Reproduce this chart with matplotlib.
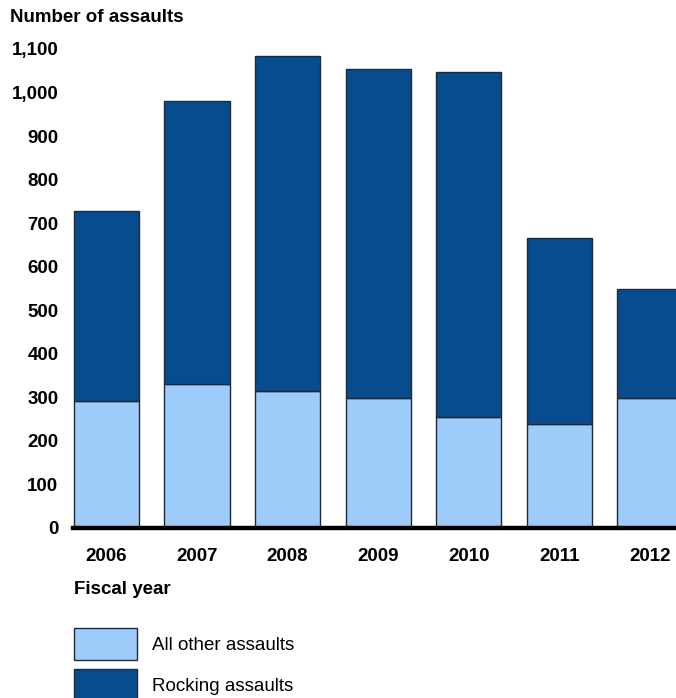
import matplotlib
matplotlib.use("Agg")
import matplotlib.pyplot as plt
from matplotlib.patches import Patch
import numpy as np

plt.rcParams['font.family'] = ['Liberation Sans', 'DejaVu Sans']

years = ["2006", "2007", "2008", "2009", "2010", "2011", "2012"]
other_assaults = [292, 330, 315, 299, 254, 238, 298]
rocking_assaults = [436, 650, 770, 756, 794, 427, 250]
y_ticks = [0, 100, 200, 300, 400, 500, 600, 700, 800, 900, 1000, 1100]
y_labels = ["0", "100", "200", "300", "400", "500", "600", "700", "800", "900", "1,000", "1,100"]

light = "#9DCBFA"
dark = "#074C8E"
edge = "#1F2A36"

W, H = 676, 698
fig = plt.figure(figsize=(W / 100, H / 100), dpi=100)
ax = fig.add_axes([73 / W, (H - 528) / H, (676 - 73) / W, (528 - 49) / H])

x = np.arange(len(years))
ax.bar(x, other_assaults, width=0.72, color=light, edgecolor=edge, linewidth=1.0, zorder=2)
ax.bar(x, rocking_assaults, bottom=other_assaults, width=0.72, color=dark,
       edgecolor=edge, linewidth=1.0, zorder=2)

ax.set_xlim(-0.37, 6.29)
ax.set_ylim(0, 1100)
ax.set_yticks(y_ticks)
ax.set_yticklabels(y_labels, fontsize=13.5, fontweight="bold")
ax.set_xticks(x)
ax.set_xticklabels(years, fontsize=13.5, fontweight="bold")
ax.tick_params(axis="both", length=0)
ax.tick_params(axis="y", pad=10.5)
ax.tick_params(axis="x", pad=14.5)
for s in ["top", "right", "left"]:
    ax.spines[s].set_visible(False)
ax.spines["bottom"].set_linewidth(3.2)
ax.spines["bottom"].set_color("black")
ax.spines["bottom"].set_zorder(3)

fig.text(10 / W, (H - 18) / H, "Number of assaults", fontsize=13.5, fontweight="bold",
         ha="left", va="center")
fig.text(74 / W, (H - 590) / H, "Fiscal year", fontsize=13.5, fontweight="bold",
         ha="left", va="center")

handles = [Patch(facecolor=light, edgecolor=edge, linewidth=1.0),
           Patch(facecolor=dark, edgecolor=edge, linewidth=1.0)]
fig.legend(handles, ["All other assaults", "Rocking assaults"],
           loc="upper left", bbox_to_anchor=(74 / W, (H - 628) / H),
           frameon=False, fontsize=13.5, borderpad=0, borderaxespad=0,
           handlelength=3.36, handleheight=2.25, handletextpad=0.8, labelspacing=0.48)

fig.savefig("out.png", dpi=100)
